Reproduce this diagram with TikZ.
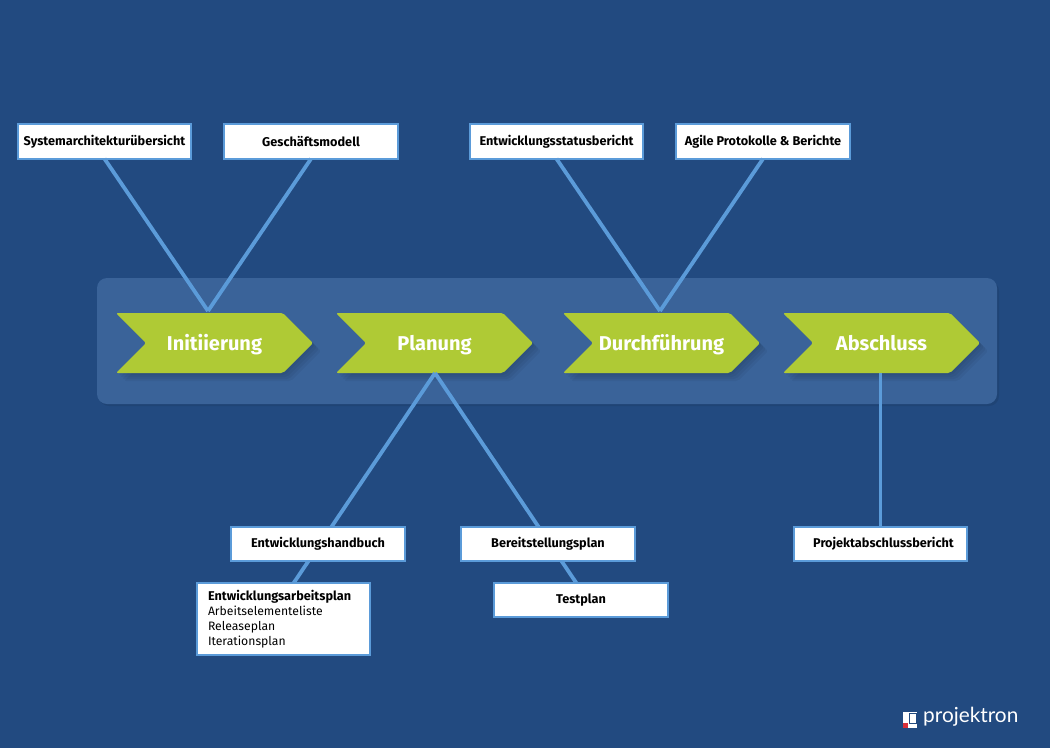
\documentclass[tikz,border=0pt]{standalone}
\usepackage{fontspec}
\setmainfont{Fira Sans}
\newfontfamily\logofont{Lato}
\usetikzlibrary{shapes.symbols, shadows}
\definecolor{bgblue}{HTML}{224A80}
\definecolor{panelblue}{HTML}{3A6399}
\definecolor{lineblue}{HTML}{5B9BD9}
\definecolor{phasegreen}{HTML}{AFCA35}
\definecolor{logored}{HTML}{D8303A}
\tikzset{
  softshadow/.style={general shadow={shadow xshift=#1, shadow yshift=-#1, opacity=.045, fill=black}},
  docbox/.style={draw=lineblue, line width=2.2pt, fill=white, minimum width=173.5pt, minimum height=34.5pt,
    inner sep=0pt, outer sep=0pt, font=\fontsize{12.7}{15}\selectfont\bfseries, text=black},
  phase/.style={shape=signal, signal to=east, signal from=west, signal pointer angle=90, fill=phasegreen,
    minimum width=197pt, minimum height=60pt, inner sep=0pt, outer sep=0pt, rounded corners=2pt,
    text=white, text height=16pt, text depth=2pt, font=\fontsize{20}{22}\selectfont\bfseries,
    softshadow=2pt, softshadow=4pt, softshadow=6pt, softshadow=8pt},
  link/.style={draw=lineblue, line width=3.8pt}
}
\begin{document}
\begin{tikzpicture}[x=1pt, y=-1pt]
  \useasboundingbox (0,0) rectangle (1050,748);

  % Hintergrund
  \fill[bgblue] (0,0) rectangle (1050,748);
  \fill[black, opacity=.08, rounded corners=10pt] (99,281) rectangle (999,406);
  \fill[panelblue, rounded corners=10pt] (97,278) rectangle (997,404);

  % Phasen
  \node[phase] (init) at (214.5,343) {Initiierung};
  \node[phase] (plan) at (434.5,343) {Planung};
  \node[phase] (exec) at (661.5,343) {Durchführung};
  \node[phase] (close) at (881.5,343) {Abschluss};

  % Verbindungspunkte
  \coordinate (initTop) at (208,311);
  \coordinate (execTop) at (660,311);
  \coordinate (planBot) at (435,373);
  \coordinate (closeBot) at (880.5,373);
  \coordinate (workTop) at (293,584);
  \coordinate (testTop) at (577,584);

  % Verbinder hinter den Dokumenten
  \draw[link] (planBot) -- (workTop);
  \draw[link] (planBot) -- (testTop);

  % Obere Dokumente
  \node[docbox] (sysarch) at (104.5,141.5) {Systemarchitekturübersicht};
  \node[docbox] (bizmodel) at (311,141.5) {Geschäftsmodell};
  \node[docbox] (statrep) at (556.5,141.5) {Entwicklungsstatusbericht};
  \node[docbox] (agilerep) at (763,141.5) {Agile Protokolle \& Berichte};

  % Untere Dokumente
  \node[docbox] (devman) at (318,544) {Entwicklungshandbuch};
  \node[docbox] (deploy) at (548,544) {Bereitstellungsplan};
  \node[docbox] (testplan) at (581,600) {Testplan};
  \node[docbox] (closerep) at (880.5,544) {\hspace*{6pt}Projektabschlussbericht};
  \node[docbox, minimum height=72pt, align=left, text width=151pt, inner xsep=11pt] (workplan) at (283.5,619)
    {Entwicklungsarbeitsplan\\{\mdseries\fontsize{12.2}{15}\selectfont Arbeitselementeliste}\\{\mdseries\fontsize{12.2}{15}\selectfont Releaseplan}\\{\mdseries\fontsize{12.2}{15}\selectfont Iterationsplan}};

  % Verbinder
  \draw[link] (sysarch.south) -- (initTop);
  \draw[link] (bizmodel.south) -- (initTop);
  \draw[link] (statrep.south) -- (execTop);
  \draw[link] (agilerep.south) -- (execTop);
  \draw[link] (closeBot) -- (closerep.north);

  % Logo
  \fill[white] (903,712) rectangle (917,728);
  \fill[logored] (903,723) rectangle (908,728);
  \draw[bgblue, line width=.8pt] (909,713) rectangle (916,723);
  \node[inner sep=0pt, anchor=west, text=white, font=\logofont\fontsize{20.8}{24}\selectfont] (logo) at (923,717) {projektron};
\end{tikzpicture}
\end{document}
